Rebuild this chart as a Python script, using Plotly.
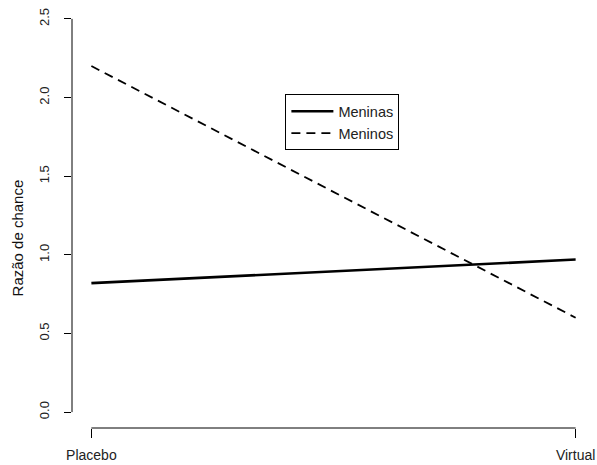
import plotly.graph_objects as go

# Odds ratios by condition and group
conditions = ["Placebo", "Virtual"]
condition_pos = [1, 2]
meninas = [0.82, 0.97]
meninos = [2.20, 0.60]
y_ticks = [0.0, 0.5, 1.0, 1.5, 2.0, 2.5]
y_label = "Razão de chance"

FONT = "Liberation Sans, Arial, sans-serif"
TEXT = "#222"

fig = go.Figure()
fig.add_trace(go.Scatter(
    x=condition_pos, y=meninas, mode="lines", name="Meninas",
    line=dict(color="black", width=2.6),
))
fig.add_trace(go.Scatter(
    x=condition_pos, y=meninos, mode="lines", name="Meninos",
    line=dict(color="black", width=1.8, dash="9px,6px"),
))

# detached R-style axis lines spanning only the tick range
fig.add_shape(type="line", xref="paper", yref="y", x0=0, x1=0,
              y0=y_ticks[0], y1=y_ticks[-1], line=dict(color="black", width=1))
fig.add_shape(type="line", xref="x", yref="paper", x0=condition_pos[0],
              x1=condition_pos[-1], y0=0, y1=0, line=dict(color="black", width=1))

# y-axis label placed in the left margin
fig.add_annotation(
    text=y_label, xref="paper", yref="paper", x=0, y=0.446,
    xanchor="center", yanchor="middle", xshift=-55, textangle=-90,
    showarrow=False, font=dict(family=FONT, size=15, color="#111"),
)

fig.update_layout(
    width=597, height=465,
    margin=dict(l=72, r=2, t=3, b=34),
    paper_bgcolor="white", plot_bgcolor="white",
    font=dict(family=FONT, size=14, color=TEXT),
    showlegend=True,
    legend=dict(
        x=0.408, y=0.785, xanchor="left", yanchor="top",
        bordercolor="black", borderwidth=1, bgcolor="white",
        font=dict(family=FONT, size=14.5, color=TEXT),
        tracegroupgap=0, itemwidth=42,
    ),
    xaxis=dict(
        range=[0.96, 2.04], tickvals=condition_pos, ticktext=conditions,
        showgrid=False, zeroline=False, showline=False,
        ticks="outside", ticklen=9, tickcolor="black", tickwidth=1,
        ticklabelstandoff=5,
        tickfont=dict(family=FONT, size=14, color=TEXT),
    ),
    yaxis=dict(
        range=[-0.101, 2.601], tickvals=y_ticks,
        ticktext=[f"{v:.1f}" for v in y_ticks],
        showgrid=False, zeroline=False, showline=False,
        ticks="outside", ticklen=7, tickcolor="black", tickwidth=1,
        tickangle=-90, ticklabelstandoff=10,
        tickfont=dict(family=FONT, size=13, color=TEXT),
    ),
)

fig.write_html("out.html")
